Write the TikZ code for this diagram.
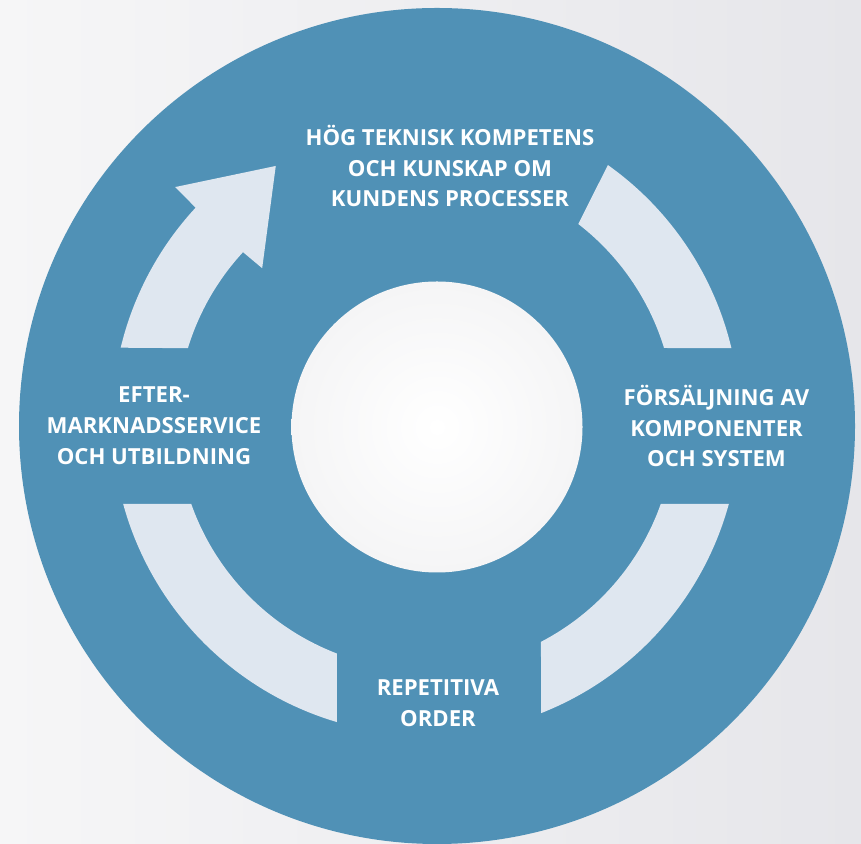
\documentclass[tikz,border=0pt]{standalone}
\usepackage{fontspec}
\setmainfont{Open Sans}
\definecolor{ringblue}{HTML}{5091B6}
\definecolor{arcpale}{HTML}{DFE7F0}
\definecolor{bgtop}{HTML}{F6F6F7}
\definecolor{bgbottom}{HTML}{E6E6EA}
\definecolor{discedge}{HTML}{F5F5F6}
\begin{document}
\begin{tikzpicture}[x=0.02cm, y=0.02cm,
    cycletext/.style={text=white, align=center, font=\bfseries\fontsize{12.6}{17.6}\selectfont}]

    % Background and the two discs
    \useasboundingbox (0,0) rectangle (861,844);
    \shade[left color=bgtop, right color=bgbottom] (0,0) rectangle (861,844);
    \begin{scope}
        \clip (0,0) rectangle (861,844);
        \fill[ringblue] (437,418) circle[radius=418];
    \end{scope}
    \shade[inner color=white, outer color=discedge] (437,417) circle[radius=145.5];

    % The four pale arcs, drawn round the centre of the cycle
    \begin{scope}[shift={(426,423)}, fill=arcpale]
        % upper left, with the arrow head
        \fill (166.5:314) arc[start angle=166.5, end angle=137.2, radius=314]
            -- (137:343) -- (120.5:296) -- (137:224) -- (137.3:249)
            arc[start angle=137.3, end angle=163, radius=249] -- cycle;
        % upper right
        \fill (54.6:314) arc[start angle=54.6, end angle=13.4, radius=314]
            -- (17.05:249) arc[start angle=17.05, end angle=52.3, radius=249] -- cycle;
        % lower right
        \fill (-15.3:314) arc[start angle=-15.3, end angle=-68.5, radius=314]
            -- (-62.5:249) arc[start angle=-62.5, end angle=-19.45, radius=249] -- cycle;
        % lower left
        \fill (195.3:314) arc[start angle=195.3, end angle=253.5, radius=314]
            -- (249:249) arc[start angle=249, end angle=199.45, radius=249] -- cycle;
    \end{scope}

    % Label the steps
    \node[cycletext] (kompetens) at (450,678) {HÖG TEKNISK KOMPETENS\\OCH KUNSKAP OM\\KUNDENS PROCESSER};
    \node[cycletext] (forsaljning) at (716.5,418) {FÖRSÄLJNING AV\\KOMPONENTER\\OCH SYSTEM};
    \node[cycletext] (repetitiva) at (438,140.5) {REPETITIVA\\ORDER};
    \node[cycletext] (eftermarknad) at (154,418) {EFTER-\\MARKNADSSERVICE\\OCH UTBILDNING};
\end{tikzpicture}
\end{document}
